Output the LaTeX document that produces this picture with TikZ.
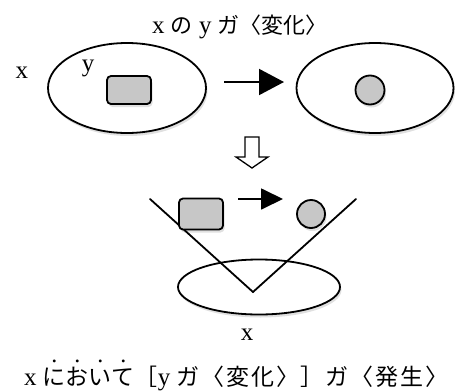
\documentclass[tikz,border=0pt]{standalone}
\usepackage{fontspec}
\setmainfont{Liberation Serif}
\newfontfamily\jp{Noto Sans CJK JP}
\usetikzlibrary{shapes.geometric,arrows.meta,shadows,calc}
\newsavebox\btbox
\newcommand\bouten[1]{\sbox\btbox{#1}\rlap{\hbox to\wd\btbox{\hss\raisebox{23pt}{\rmfamily\fontsize{24}{24}\selectfont .}\hss}}\usebox\btbox}
\begin{document}
\begin{tikzpicture}[x=1pt,y=-1pt,
  shd/.style={drop shadow={shadow xshift=1.5pt,shadow yshift=-3pt,opacity=0.12,fill=black}},
  oval/.style={ellipse,draw,line width=1.8pt,fill=white,shd,inner sep=0pt},
  boxy/.style={draw,line width=1.8pt,fill=black!22,rounded corners=4pt,inner sep=0pt,shd},
  dot/.style={circle,draw,line width=1.8pt,fill=black!22,inner sep=0pt,shd},
  lbl/.style={font=\fontsize{25}{27}\selectfont,inner sep=0pt},
  bigarrow/.style={line width=2pt,-{Triangle[length=25pt,width=26pt]}},
  midarrow/.style={line width=1.8pt,-{Triangle[length=22pt,width=21pt]}},
  vline/.style={line width=1.8pt,line cap=round}]
\useasboundingbox (0,0) rectangle (455,391);
% title
\node[lbl,anchor=west] (title) at (152,27) {x {\jp\fontsize{22}{24}\selectfont の} y {\jp\fontsize{22}{24}\selectfont ガ〈変化〉}};
% top row
\node[oval,minimum width=158pt,minimum height=90pt] (e1) at (127,88) {};
\node[oval,minimum width=157pt,minimum height=90pt] (e2) at (375,88) {};
\node[lbl] (lx) at (22,73) {x};
\node[lbl] (ly) at (88,68) {y};
\node[boxy,minimum width=44pt,minimum height=28pt] (r1) at (129,90) {};
\node[dot,minimum size=29pt] (c1) at (370,90) {};
\coordinate (a1s) at (224,82);
\coordinate (a1e) at (284,82);
\draw[bigarrow] (a1s) -- (a1e);
% hollow down arrow
\coordinate (ha) at (252,137);
\draw[line width=1.3pt,fill=white,line join=miter]
  ($(ha)+(-7,0)$) -- ++(0,20) -- ++(-9,0) -- ($(ha)+(0,31)$) -- ($(ha)+(16,20)$) -- ++(-9,0) -- ++(0,-20) -- cycle;
% bottom
\node[oval,minimum width=162pt,minimum height=55pt] (e3) at (259,287) {};
\coordinate (vl) at (150,199);
\coordinate (vb) at (253,292);
\coordinate (vr) at (356,199);
\draw[vline] (vl) -- (vb) -- (vr);
\node[boxy,minimum width=44pt,minimum height=31pt] (r2) at (201,214) {};
\node[dot,minimum size=28pt] (c2) at (311,214) {};
\coordinate (a2s) at (238,199);
\coordinate (a2e) at (283,199);
\draw[midarrow] (a2s) -- (a2e);
\node[lbl] (bx) at (247,335) {x};
% bottom text
\node[lbl,anchor=west] (btxt) at (24,375) {x {\jp\fontsize{23}{26}\selectfont\addfontfeature{LetterSpace=8}\bouten{に}\bouten{お}\bouten{い}\bouten{て}［}y {\jp\fontsize{23}{26}\selectfont\addfontfeature{LetterSpace=8}ガ〈変化〉］ガ〈発生〉}};
\end{tikzpicture}
\end{document}
